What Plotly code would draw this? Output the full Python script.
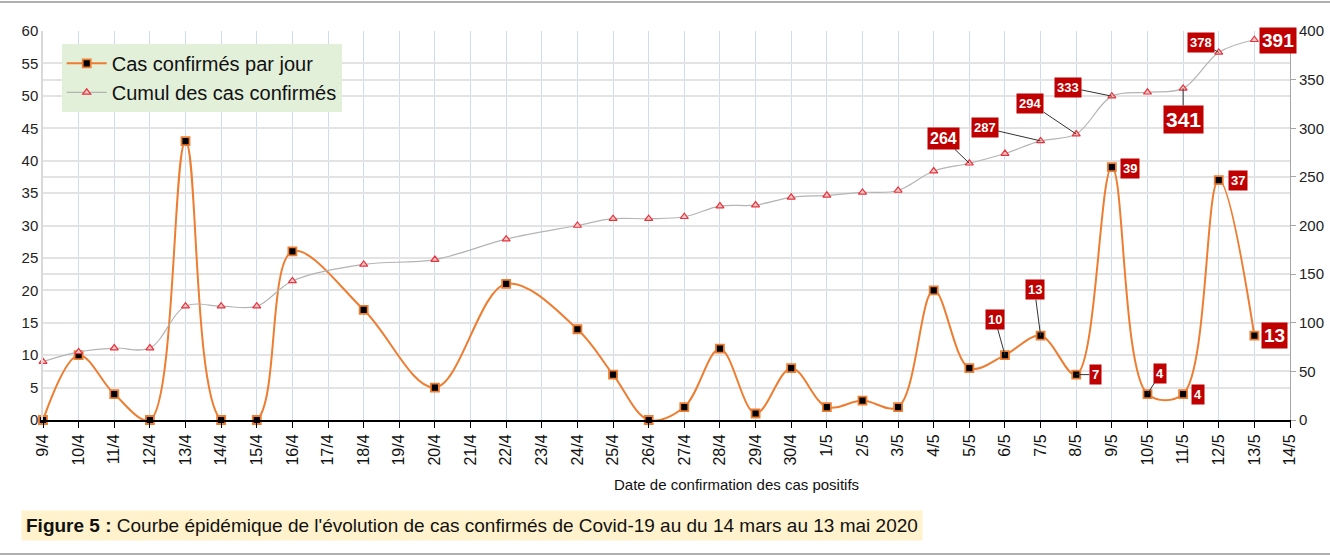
import plotly.graph_objects as go

dates = ["9/4", "10/4", "11/4", "12/4", "13/4", "14/4", "15/4", "16/4", "17/4", "18/4",
         "19/4", "20/4", "21/4", "22/4", "23/4", "24/4", "25/4", "26/4", "27/4", "28/4",
         "29/4", "30/4", "1/5", "2/5", "3/5", "4/5", "5/5", "6/5", "7/5", "8/5",
         "9/5", "10/5", "11/5", "12/5", "13/5", "14/5"]
daily = [0, 10, 4, 0, 43, 0, 0, 26, None, 17,
         None, 5, None, 21, None, 14, 7, 0, 2, 11,
         1, 8, 2, 3, 2, 20, 8, 10, 13, 7,
         39, 4, 4, 37, 13, None]
cumul = [60, 70, 74, 74, 117, 117, 117, 143, None, 160,
         None, 165, None, 186, None, 200, 207, 207, 209, 220,
         221, 229, 231, 234, 236, 256, 264, 274, 287, 294,
         333, 337, 341, 378, 391, None]

# labelled points: (date, value, text offset x, text offset y, font size, leader line)
daily_labels = [("6/5", 10, -10, -36, 13, True), ("7/5", 13, -6, -46, 13, True),
                ("8/5", 7, 19, 0, 13, True), ("9/5", 39, 18, 1, 13, False),
                ("10/5", 4, 13, -21, 13, True), ("11/5", 4, 15, 0, 13, False),
                ("12/5", 37, 19, 0, 13, False), ("13/5", 13, 20, 0, 19, False)]
cumul_labels = [("5/5", 264, -26, -25, 16, True), ("7/5", 287, -56, -13, 13, True),
                ("8/5", 294, -46, -31, 13, True), ("9/5", 333, -44, -9, 13, True),
                ("11/5", 341, 0, 31, 21, True), ("12/5", 378, -18, -10, 13, True),
                ("13/5", 391, 24, 1, 19, False)]

NARROW = "Liberation Sans Narrow, Arial Narrow, Liberation Sans, Arial"
SANS = "Liberation Sans, Arial"
RED = "#c00000"

fig = go.Figure()
fig.add_trace(go.Scatter(
    x=dates, y=cumul, name="Cumul des cas confirmés", yaxis="y2",
    mode="lines+markers", connectgaps=True,
    line=dict(color="#b4b4b4", width=1.2, shape="spline", smoothing=1),
    marker=dict(symbol="triangle-up", size=7, color="#f7c6c6",
                line=dict(color="#e8323c", width=1.2)),
    cliponaxis=False,
))
fig.add_trace(go.Scatter(
    x=dates, y=daily, name="Cas confirmés par jour", yaxis="y",
    mode="lines+markers", connectgaps=True,
    line=dict(color="#ed7d31", width=2, shape="spline", smoothing=1),
    marker=dict(symbol="square", size=8, color="#000000",
                line=dict(color="#ed7d31", width=1.8)),
    cliponaxis=False,
))

annotations = []
for d, v, ax, ay, fs, lead in daily_labels:
    annotations.append(dict(
        x=d, y=v, xref="x", yref="y", ax=ax, ay=ay, axref="pixel", ayref="pixel",
        text=f"<b>{v}</b>", showarrow=True, arrowhead=0, arrowwidth=1,
        arrowcolor="#333333" if lead else "rgba(0,0,0,0)",
        bgcolor=RED, borderpad=2, font=dict(family=NARROW, size=fs, color="white"),
    ))
for d, v, ax, ay, fs, lead in cumul_labels:
    annotations.append(dict(
        x=d, y=v, xref="x", yref="y2", ax=ax, ay=ay, axref="pixel", ayref="pixel",
        text=f"<b>{v}</b>", showarrow=True, arrowhead=0, arrowwidth=1,
        arrowcolor="#333333" if lead else "rgba(0,0,0,0)",
        bgcolor=RED, borderpad=2, font=dict(family=NARROW, size=fs, color="white"),
    ))
annotations.append(dict(
    xref="paper", yref="paper", x=-0.018, y=-0.27, xanchor="left", yanchor="middle",
    text="<b>Figure 5 :</b> Courbe épidémique de l'évolution de cas confirmés de Covid-19 au du 14 mars au 13 mai 2020",
    showarrow=False, bgcolor="#fff2cc", borderpad=4,
    font=dict(family=NARROW, size=19, color="#111111"),
))
annotations.append(dict(
    xref="paper", yref="paper", x=(736 - 43) / 1247, y=-(484 - 420) / 389,
    xanchor="center", yanchor="middle",
    text="Date de confirmation des cas positifs", showarrow=False,
    font=dict(family=NARROW, size=15, color="#111111"),
))

fig.update_layout(
    width=1330, height=557,
    margin=dict(l=43, r=40, t=31, b=137),
    paper_bgcolor="white", plot_bgcolor="white",
    font=dict(family=SANS, color="#222222"),
    showlegend=True,
    legend=dict(x=0.015, y=0.967, xanchor="left", yanchor="top",
                bgcolor="#e2efd9", font=dict(family=SANS, size=20, color="#111111"),
                traceorder="reversed", borderwidth=0, itemwidth=40),
    xaxis=dict(type="category", categoryorder="array", categoryarray=dates,
               range=[0, len(dates) - 1], tickangle=-90, automargin=False,
               tickfont=dict(family=SANS, size=16, color="#111111"),
               showgrid=True, gridcolor="#cfdcf0", gridwidth=1,
               showline=True, linecolor="#000000", linewidth=2,
               ticks="outside", ticklen=6, tickcolor="#000000",
               zeroline=False),
    yaxis=dict(range=[0, 60], dtick=5, showgrid=True, gridcolor="#e3e3e3", gridwidth=1.5,
               showline=True, linecolor="#d9d9d9", linewidth=1.5, automargin=False,
               tickfont=dict(family=SANS, size=15, color="#222222"), ticks="",
               zeroline=False),
    yaxis2=dict(range=[0, 400], dtick=50, overlaying="y", side="right",
                showgrid=True, gridcolor="#e3e3e3", gridwidth=1.5, automargin=False,
                showline=True, linecolor="#a6a6a6", linewidth=1,
                ticks="outside", ticklen=5, tickcolor="#a6a6a6",
                tickfont=dict(family=SANS, size=15, color="#222222"),
                zeroline=False),
    annotations=annotations,
    shapes=[
        dict(type="line", xref="paper", yref="paper", x0=-0.05, x1=1.05,
             y0=1 + 29 / 389, y1=1 + 29 / 389, line=dict(color="#b0b0b0", width=2)),
        dict(type="line", xref="paper", yref="paper", x0=-0.05, x1=1.05,
             y0=-134 / 389, y1=-134 / 389, line=dict(color="#b0b0b0", width=2)),
    ],
)

fig.write_html("out.html", config={"displayModeBar": False},
               post_script="document.body.style.margin='0';")
